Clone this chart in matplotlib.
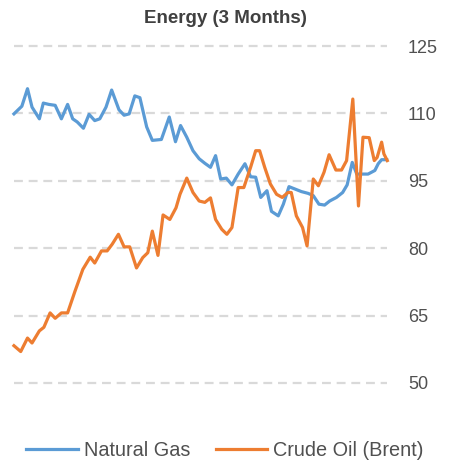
import matplotlib
matplotlib.use("Agg")
from matplotlib import pyplot as plt

plt.rcParams['font.family'] = ['Liberation Sans', 'DejaVu Sans']

# trading-day index (approx) and prices
gas_days = [0, 1.4, 2.4, 3.2, 4.5, 5.2, 6.2, 7.3, 8.4, 9.5,
            10.4, 11.2, 12.3, 13.3, 14.3, 15.2, 16.3, 17.3, 18.6, 19.5,
            20.4, 21.4, 22.3, 23.5, 24.5, 26.1, 27.5, 28.6, 29.5, 30.6,
            31.7, 32.8, 33.8, 34.8, 35.7, 36.6, 37.6, 38.6, 39.7, 40.9,
            41.9, 42.8, 43.7, 44.8, 45.6, 46.8, 47.7, 48.7, 49.7, 50.9,
            52.1, 53.0, 54.0, 55.0, 55.9, 57.1, 58.2, 59.0, 59.9, 60.7,
            61.5, 62.7, 63.9, 64.5, 65.1, 66.0]
gas = [109.9, 111.6, 115.5, 111.4, 108.8, 112.3, 112.0, 111.8, 108.8, 112.0,
       108.8, 108.1, 106.7, 109.8, 108.4, 108.8, 111.4, 115.2, 110.8, 109.6,
       109.9, 113.9, 113.5, 107.0, 104.0, 104.2, 109.2, 103.7, 107.3, 104.7,
       101.7, 99.9, 98.9, 98.0, 100.6, 95.4, 95.6, 94.1, 96.5, 98.8,
       95.9, 95.8, 91.3, 92.8, 88.2, 87.2, 89.8, 93.7, 93.2, 92.6,
       92.2, 91.7, 89.8, 89.6, 90.5, 91.3, 92.4, 94.1, 99.1, 96.5,
       96.5, 96.5, 97.3, 98.8, 99.7, 99.7]

oil_days = [0, 1.2, 2.4, 3.2, 4.5, 5.3, 6.4, 7.3, 8.4, 9.5,
            10.8, 12.2, 13.5, 14.3, 15.5, 16.5, 17.4, 18.5, 19.5, 20.5,
            21.7, 22.8, 23.7, 24.5, 25.5, 26.4, 27.6, 28.7, 29.4, 30.6,
            31.7, 32.8, 33.8, 34.8, 35.7, 36.8, 37.7, 38.6, 39.7, 40.7,
            41.9, 42.8, 43.5, 44.4, 45.4, 46.5, 47.5, 48.5, 49.1, 50.0,
            51.1, 51.9, 53.0, 53.9, 54.9, 55.8, 57.0, 58.0, 58.9, 60.0,
            61.0, 61.8, 62.9, 63.8, 64.3, 65.1, 65.5, 66.1]
oil = [58.3, 57.0, 60.0, 58.9, 61.6, 62.4, 65.6, 64.4, 65.6, 65.6,
       70.4, 75.3, 78.0, 76.7, 79.4, 79.4, 80.9, 83.1, 80.3, 80.3,
       75.6, 77.9, 79.0, 83.8, 78.4, 87.4, 86.4, 89.0, 92.0, 95.6,
       92.4, 90.5, 90.2, 91.2, 86.4, 84.2, 83.1, 84.6, 93.5, 93.5,
       98.0, 101.7, 101.7, 98.0, 94.3, 92.0, 91.3, 92.4, 92.4, 87.2,
       84.6, 80.5, 95.4, 93.9, 96.9, 100.8, 97.4, 97.4, 99.5, 113.2,
       89.4, 104.7, 104.6, 99.5, 100.2, 103.6, 101.0, 99.5]

yticks = [50, 65, 80, 95, 110, 125]

fig = plt.figure()
fig.set_dpi(100)
fig.set_size_inches(4.5, 4.63)

ax = fig.add_axes([0.031, 0.1728, 0.8296, 0.7278])

for y in yticks:
    ax.axhline(y, color='#d9d9d9', lw=1.6, ls=(0, (4, 2.6)), zorder=0,
               clip_on=False)

ax.plot(gas_days, gas, color='#5b9bd5', lw=2.3, label='Natural Gas',
        solid_joinstyle='round', clip_on=False)
ax.plot(oil_days, oil, color='#ed7d31', lw=2.3, label='Crude Oil (Brent)',
        solid_joinstyle='round', clip_on=False)

ax.set_xlim(0, 66.1)
ax.set_ylim(50, 125)
ax.set_xticks([])
ax.set_yticks(yticks)
ax.yaxis.tick_right()
ax.tick_params(axis='y', length=0, pad=15, labelsize=13, labelcolor='#505050')
for s in ax.spines.values():
    s.set_visible(False)

fig.text(0.5, 0.96, 'Energy (3 Months)', ha='center', va='center',
         fontsize=13.5, fontweight='bold', color='#404040')

fig.legend(loc='center', bbox_to_anchor=(0.5, 0.028), ncol=2, frameon=False,
           fontsize=14.3, handlelength=2.6, handletextpad=0.3, columnspacing=1.3,
           labelcolor='#505050')

fig.savefig('out.png', dpi=100)
